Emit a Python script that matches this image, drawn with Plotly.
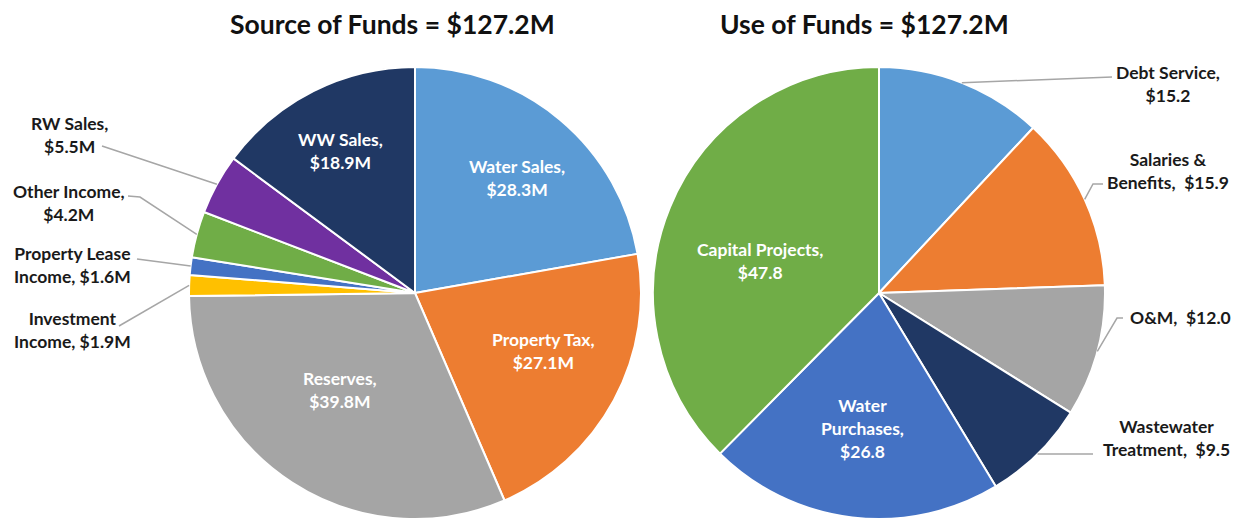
import math
import plotly.graph_objects as go

W, H = 1244, 521

# ---------------- data ----------------
src_names = ["Water Sales", "Property Tax", "Reserves", "Investment Income",
             "Property Lease Income", "Other Income", "RW Sales", "WW Sales"]
src_values = [28.3, 27.1, 39.8, 1.9, 1.6, 4.2, 5.5, 18.9]
src_text = ["Water Sales,<br>$28.3M", "Property Tax,<br>$27.1M", "Reserves,<br>$39.8M",
            "Investment<br>Income, $1.9M", "Property Lease<br>Income, $1.6M",
            "Other Income,<br>$4.2M", "RW Sales,<br>$5.5M", "WW Sales,<br>$18.9M"]

use_names = ["Debt Service", "Salaries & Benefits", "O&M", "Wastewater Treatment",
             "Water Purchases", "Capital Projects"]
use_values = [15.2, 15.9, 12.0, 9.5, 26.8, 47.8]
use_text = ["Debt Service,<br>$15.2", "Salaries &<br>Benefits,  $15.9", "O&M,  $12.0",
            "Wastewater<br>Treatment,  $9.5", "Water<br>Purchases,<br>$26.8",
            "Capital Projects,<br>$47.8"]

titles = ["Source of Funds = $127.2M", "Use of Funds = $127.2M"]

# ---------------- styles ----------------
src_colors = ["#5B9BD5", "#ED7D31", "#A5A5A5", "#FFC000", "#4472C4", "#70AD47", "#7030A0", "#203864"]
use_colors = ["#5B9BD5", "#ED7D31", "#A5A5A5", "#203864", "#4472C4", "#70AD47"]
FONT = "Lato"
LEAD = "#A6A6A6"
LABEL_SIZE = 17.5
TITLE_SIZE = 26.5

# pie geometry in pixels (centre, radius)
src_geo = (415, 293, 226)
use_geo = (879, 293, 226)

# label layout: (inside?, text centre px, leader knee points px)
src_layout = [
    (True, (517, 178), []),
    (True, (543, 351), []),
    (True, (340, 390), []),
    (False, (72, 330), [(119, 326)]),
    (False, (72, 265), [(137, 259)]),
    (False, (69, 203), [(140, 197), (128, 196)]),
    (False, (69, 135), [(102, 146)]),
    (True, (340, 151), []),
]
use_layout = [
    (False, (1168, 84), [(1112, 77)]),
    (False, (1168, 171), [(1093, 184), (1103, 184)]),
    (False, (1180, 317), [(1117, 318), (1123, 318)]),
    (False, (1166, 438), [(1093, 454)]),
    (True, (862, 428), []),
    (True, (760, 261), []),
]


def px(x, y):
    return x / W, 1 - y / H


def domain(geo):
    cx, cy, r = geo
    return dict(x=[(cx - r) / W, (cx + r) / W], y=[1 - (cy + r) / H, 1 - (cy - r) / H])


def slice_edge(values, i, geo):
    cx, cy, r = geo
    cum = sum(values[:i]) + values[i] / 2
    ang = cum / sum(values) * 2 * math.pi
    return cx + r * math.sin(ang), cy - r * math.cos(ang)


fig = go.Figure()
annotations = []
shapes = []

for names, values, colors, texts, geo, lay in [
    (src_names, src_values, src_colors, src_text, src_geo, src_layout),
    (use_names, use_values, use_colors, use_text, use_geo, use_layout),
]:
    fig.add_trace(go.Pie(
        labels=names, values=values, sort=False, direction="clockwise", rotation=0,
        marker=dict(colors=colors, line=dict(color="white", width=2)),
        textinfo="none", domain=domain(geo), showlegend=False,
        hovertemplate="%{label}: $%{value}M<extra></extra>",
    ))
    for i, (inside, (tx, ty), knees) in enumerate(lay):
        ax, ay = px(tx, ty)
        annotations.append(dict(
            x=ax, y=ay, xref="paper", yref="paper", text="<b>" + texts[i] + "</b>",
            showarrow=False, xanchor="center", yanchor="middle", align="center",
            font=dict(family=FONT, size=LABEL_SIZE, color="white" if inside else "#1a1a1a"),
        ))
        if not inside:
            ex, ey = slice_edge(values, i, geo)
            pts = [(ex, ey)] + knees
            path = ""
            for k, (x, y) in enumerate(pts):
                qx, qy = px(x, y)
                path += ("M" if k == 0 else " L") + f" {qx:.5f} {qy:.5f}"
            shapes.append(dict(type="path", path=path, xref="paper", yref="paper",
                               line=dict(color=LEAD, width=1.5)))

for t, cx in zip(titles, [392, 864]):
    ax, ay = px(cx, 24)
    annotations.append(dict(x=ax, y=ay, xref="paper", yref="paper", text="<b>" + t + "</b>",
                            showarrow=False, xanchor="center", yanchor="middle",
                            font=dict(family=FONT, size=TITLE_SIZE, color="#111111")))

fig.update_layout(
    width=W, height=H, margin=dict(l=0, r=0, t=0, b=0),
    paper_bgcolor="white", plot_bgcolor="white",
    annotations=annotations, shapes=shapes,
)

fig.write_html("out.html", config={"displayModeBar": False},
               post_script="document.body.style.margin='0';")
